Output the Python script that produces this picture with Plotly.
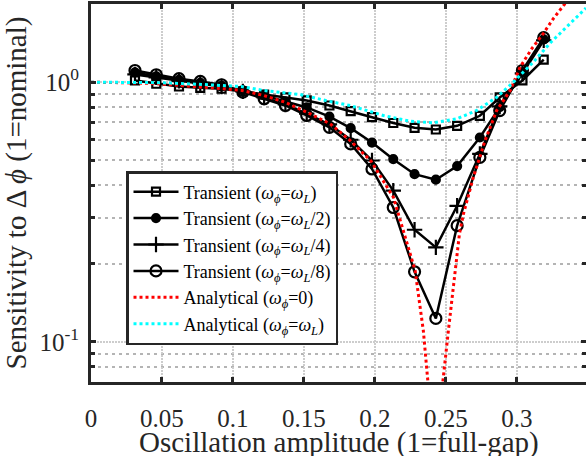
import plotly.graph_objects as go

# ---------------- data ----------------
amp = [0.031, 0.046, 0.062, 0.077, 0.092, 0.107, 0.122, 0.137, 0.152, 0.168,
       0.183, 0.198, 0.213, 0.228, 0.243, 0.258, 0.274, 0.288, 0.304, 0.319]

trans_wL = [1.015, 0.986, 0.962, 0.951, 0.943, 0.921, 0.896, 0.873, 0.850, 0.813,
            0.774, 0.733, 0.696, 0.667, 0.657, 0.679, 0.742, 0.873, 1.015, 1.22]
trans_wL2 = [1.090, 1.052, 1.020, 0.993, 0.967, 0.929, 0.889, 0.842, 0.799, 0.737,
             0.665, 0.585, 0.505, 0.442, 0.421, 0.475, 0.612, 0.801, 1.090, 1.462]
trans_wL4 = [1.071, 1.043, 1.011, 0.989, 0.962, 0.921, 0.873, 0.820, 0.757, 0.687,
             0.600, 0.499, 0.382, 0.270, 0.231, 0.334, 0.529, 0.806, 1.080, 1.449]
trans_wL8 = [1.109, 1.068, 1.031, 1.006, 0.977, 0.915, 0.863, 0.813, 0.744, 0.670,
             0.578, 0.463, 0.329, 0.186, 0.123, 0.280, 0.513, 0.777, 1.109, 1.484]

ana0_x = [0.0, 0.02, 0.04, 0.06, 0.08, 0.0923, 0.1063, 0.1215, 0.1368, 0.1521,
          0.1685, 0.1826, 0.1974, 0.2131, 0.2201, 0.2284, 0.2342, 0.2373, 0.2385,
          None,
          0.2470, 0.2479, 0.2518, 0.2566, 0.2596, 0.2624, 0.2694, 0.2777, 0.2859,
          0.2954, 0.3024, 0.3106, 0.3187, 0.3258, 0.3335, 0.340]
ana0_y = [1.0, 0.998, 0.99, 0.975, 0.955, 0.943, 0.929, 0.889, 0.837, 0.766,
          0.691, 0.596, 0.496, 0.360, 0.268, 0.188, 0.110, 0.0715, 0.06,
          None,
          0.06, 0.070, 0.110, 0.182, 0.260, 0.310, 0.430, 0.596, 0.778,
          0.929, 1.143, 1.346, 1.538, 1.757, 1.99, 2.3]

anaL_x = [0.0, 0.05, 0.078, 0.106, 0.1215, 0.1474, 0.1685, 0.1826, 0.206, 0.2249,
          0.2413, 0.2577, 0.2718, 0.2859, 0.2976, 0.3111, 0.3242, 0.3418, 0.3488]
anaL_y = [1.0, 0.995, 0.98, 0.962, 0.929, 0.896, 0.842, 0.813, 0.744, 0.707,
          0.697, 0.722, 0.778, 0.875, 1.0, 1.186, 1.427, 1.77, 1.93]

x_ticks = [0, 0.05, 0.1, 0.15, 0.2, 0.25, 0.3]
x_ticktext = ["0", "0.05", "0.1", "0.15", "0.2", "0.25", "0.3"]
y_ticks = [0.1, 1]
y_ticktext = ["10<sup>-1</sup>", "10<sup>0</sup>"]
y_minor = [0.07, 0.08, 0.09, 0.2, 0.3, 0.4, 0.5, 0.6, 0.7, 0.8, 0.9, 2]

x_title = "Oscillation amplitude (1=full-gap)"
y_title = "Sensitivity to Δ <i>ϕ</i> (1=nominal)"

names = [
    "Transient (<i>ω</i><sub><i>ϕ</i></sub>=<i>ω</i><sub><i>L</i></sub>)",
    "Transient (<i>ω</i><sub><i>ϕ</i></sub>=<i>ω</i><sub><i>L</i></sub>/2)",
    "Transient (<i>ω</i><sub><i>ϕ</i></sub>=<i>ω</i><sub><i>L</i></sub>/4)",
    "Transient (<i>ω</i><sub><i>ϕ</i></sub>=<i>ω</i><sub><i>L</i></sub>/8)",
    "Analytical (<i>ω</i><sub><i>ϕ</i></sub>=0)",
    "Analytical (<i>ω</i><sub><i>ϕ</i></sub>=<i>ω</i><sub><i>L</i></sub>)",
]

FONT = "Liberation Serif, Times New Roman, serif"
INK = "#262626"

fig = go.Figure()
series = [
    (trans_wL, "square-open", 8),
    (trans_wL2, "circle", 8),
    (trans_wL4, "cross-thin-open", 11),
    (trans_wL8, "circle-open", 11),
]
for (vals, sym, sz), nm in zip(series, names[:4]):
    fig.add_trace(go.Scatter(
        x=amp, y=vals, name=nm, mode="lines+markers",
        line=dict(color="black", width=2.5),
        marker=dict(symbol=sym, size=sz, color="black",
                    line=dict(color="black", width=2.2)),
    ))

fig.add_trace(go.Scatter(x=ana0_x, y=ana0_y, name=names[4], mode="lines",
                         connectgaps=False,
                         line=dict(color="#ff0000", width=3, dash="3px,3px")))
fig.add_trace(go.Scatter(x=anaL_x, y=anaL_y, name=names[5], mode="lines",
                         line=dict(color="#00ffff", width=3, dash="3px,3px")))

fig.update_layout(
    width=586, height=456,
    margin=dict(l=91, r=0, t=4, b=74, autoexpand=False),
    paper_bgcolor="white", plot_bgcolor="white",
    font=dict(family=FONT, color=INK),
    showlegend=True,
    legend=dict(
        x=(126 - 91) / 495, y=(382 - 171) / 378, xanchor="left", yanchor="top",
        bgcolor="white", bordercolor=INK, borderwidth=2.5,
        font=dict(family=FONT, size=18, color="black"),
        itemwidth=45, tracegroupgap=0,
    ),
    annotations=[dict(
        text=x_title, xref="paper", yref="paper", x=0.5, y=0,
        xanchor="center", yanchor="middle", yshift=-60, showarrow=False,
        font=dict(family=FONT, size=29, color=INK),
    )],
)

fig.update_xaxes(
    range=[0, 0.3488], tickmode="array", tickvals=x_ticks, ticktext=x_ticktext,
    tickfont=dict(family=FONT, size=25, color=INK), ticklabelstandoff=12,
    ticks="inside", ticklen=5, tickwidth=3, tickcolor=INK,
    showline=True, linecolor=INK, linewidth=3, mirror="ticks",
    showgrid=True, gridcolor="#cdcdcd", gridwidth=2, griddash="2px,1px",
    zeroline=False,
)
fig.update_yaxes(
    type="log", range=[-1.155, 0.301], tickmode="array",
    tickvals=y_ticks, ticktext=y_ticktext,
    tickfont=dict(family=FONT, size=25, color=INK), ticklabelstandoff=4,
    ticks="inside", ticklen=5, tickwidth=3, tickcolor=INK,
    showline=True, linecolor=INK, linewidth=3, mirror="ticks",
    showgrid=True, gridcolor="#cdcdcd", gridwidth=2, griddash="2px,1px",
    zeroline=False,
    minor=dict(tickmode="array", tickvals=y_minor, ticks="inside", ticklen=4,
               tickwidth=3, tickcolor=INK, showgrid=True, gridcolor="#b4b4b4",
               gridwidth=2, griddash="3px,4px"),
    title=dict(text=y_title, font=dict(family=FONT, size=29, color=INK), standoff=6),
)

fig.write_html(
    "out.html",
    config={"displayModeBar": False},
    post_script="document.body.style.margin='0';document.body.style.overflow='hidden';",
)
